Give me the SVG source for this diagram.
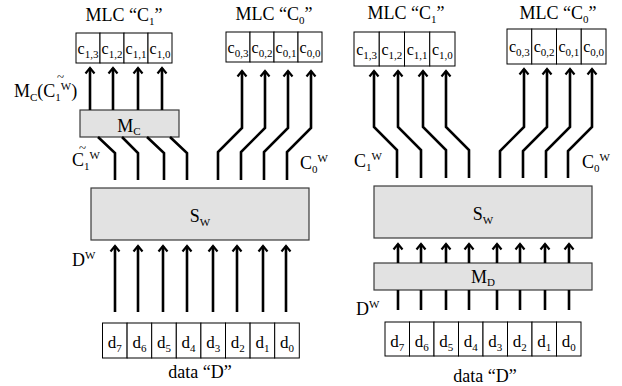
<svg xmlns="http://www.w3.org/2000/svg" width="622" height="386" viewBox="0 0 622 386">
<defs>
<marker id="ah" markerUnits="userSpaceOnUse" markerWidth="12" markerHeight="12" refX="0" refY="0" viewBox="-7 -6 9 12" orient="auto" overflow="visible">
<path d="M-5.5,-4.5 L0,0 L-5.5,4.5" fill="none" stroke="#000" stroke-width="2.2" stroke-linejoin="miter" stroke-linecap="butt"/>
</marker>
</defs>
<style>
text{font-family:"Liberation Serif","Times New Roman",serif;fill:#000}
.lbl{font-size:18px}
.mid{text-anchor:middle}
.cell{font-size:16px;text-anchor:middle}
.dc{font-size:17px;text-anchor:middle}
.sub{font-size:11px}
.sup{font-size:11px}
.tl{font-size:13px}
.c{fill:#fff;stroke:#000;stroke-width:1}
.g{fill:#e2e2e2;stroke:#3a3a3a;stroke-width:1.2}
.w{fill:none;stroke:#000;stroke-width:2.6;stroke-linejoin:miter}
.a{marker-end:url(#ah)}
</style>

<!-- LEFT PANEL -->
<g id="L_C1">
<rect class="c" x="76" y="33" width="24" height="30"/>
<rect class="c" x="100" y="33" width="24" height="30"/>
<rect class="c" x="124" y="33" width="24" height="30"/>
<rect class="c" x="148" y="33" width="24" height="30"/>
<text class="cell" x="88" y="54">c<tspan class="sub" dy="4">1,3</tspan></text>
<text class="cell" x="112" y="54">c<tspan class="sub" dy="4">1,2</tspan></text>
<text class="cell" x="136" y="54">c<tspan class="sub" dy="4">1,1</tspan></text>
<text class="cell" x="160" y="54">c<tspan class="sub" dy="4">1,0</tspan></text>
<text class="lbl mid" x="124" y="21">MLC “C<tspan class="sub" dy="4">1</tspan><tspan dy="-4">”</tspan></text>
</g>
<g id="L_C0">
<rect class="c" x="226" y="32" width="24" height="30"/>
<rect class="c" x="250" y="32" width="24" height="30"/>
<rect class="c" x="274" y="32" width="24" height="30"/>
<rect class="c" x="298" y="32" width="24" height="30"/>
<text class="cell" x="238" y="53">c<tspan class="sub" dy="4">0,3</tspan></text>
<text class="cell" x="262" y="53">c<tspan class="sub" dy="4">0,2</tspan></text>
<text class="cell" x="286" y="53">c<tspan class="sub" dy="4">0,1</tspan></text>
<text class="cell" x="310" y="53">c<tspan class="sub" dy="4">0,0</tspan></text>
<text class="lbl mid" x="274" y="20">MLC “C<tspan class="sub" dy="4">0</tspan><tspan dy="-4">”</tspan></text>
</g>
<g id="L_MC">
<rect class="g" x="80" y="110" width="99" height="27"/>
<text class="lbl mid" x="129" y="132">M<tspan class="sub" dy="3">C</tspan></text>
</g>
<g id="L_SW">
<rect class="g" x="91" y="188" width="218" height="52"/>
<text class="lbl mid" x="200" y="222">S<tspan class="sub" dy="4">W</tspan></text>
</g>
<g id="L_D">
<rect class="c" x="102.5" y="323" width="24.6" height="35"/>
<rect class="c" x="127.1" y="323" width="24.6" height="35"/>
<rect class="c" x="151.7" y="323" width="24.6" height="35"/>
<rect class="c" x="176.3" y="323" width="24.6" height="35"/>
<rect class="c" x="200.9" y="323" width="24.6" height="35"/>
<rect class="c" x="225.5" y="323" width="24.6" height="35"/>
<rect class="c" x="250.1" y="323" width="24.6" height="35"/>
<rect class="c" x="274.7" y="323" width="24.6" height="35"/>
<text class="dc" x="114.8" y="348">d<tspan class="sub" dy="4">7</tspan></text>
<text class="dc" x="139.4" y="348">d<tspan class="sub" dy="4">6</tspan></text>
<text class="dc" x="164" y="348">d<tspan class="sub" dy="4">5</tspan></text>
<text class="dc" x="188.6" y="348">d<tspan class="sub" dy="4">4</tspan></text>
<text class="dc" x="213.2" y="348">d<tspan class="sub" dy="4">3</tspan></text>
<text class="dc" x="237.8" y="348">d<tspan class="sub" dy="4">2</tspan></text>
<text class="dc" x="262.4" y="348">d<tspan class="sub" dy="4">1</tspan></text>
<text class="dc" x="287" y="348">d<tspan class="sub" dy="4">0</tspan></text>
<text class="lbl mid" x="200" y="378">data “D”</text>
</g>
<g id="L_labels">
<text class="lbl" x="14" y="97">M<tspan class="sub" dy="4">C</tspan><tspan dy="-4">(C</tspan><tspan class="sub" dy="4">1</tspan><tspan class="sup" dy="-11">W</tspan><tspan dy="7">)</tspan></text>
<text class="tl" x="57" y="81">~</text>
<text class="lbl" x="72" y="166">C<tspan class="sub" dy="4">1</tspan><tspan class="sup" dy="-11">W</tspan></text>
<text class="tl" x="79" y="152">~</text>
<text class="lbl" x="300" y="169">C<tspan class="sub" dy="4">0</tspan><tspan class="sup" dy="-11">W</tspan></text>
<text class="lbl" x="72" y="266">D<tspan class="sup" dy="-7">W</tspan></text>
</g>

<!-- RIGHT PANEL -->
<g id="R_C1">
<rect class="c" x="354" y="32" width="25.25" height="34"/>
<rect class="c" x="379.25" y="32" width="25.25" height="34"/>
<rect class="c" x="404.5" y="32" width="25.25" height="34"/>
<rect class="c" x="429.75" y="32" width="25.25" height="34"/>
<text class="cell" x="366.6" y="55">c<tspan class="sub" dy="4">1,3</tspan></text>
<text class="cell" x="391.9" y="55">c<tspan class="sub" dy="4">1,2</tspan></text>
<text class="cell" x="417.1" y="55">c<tspan class="sub" dy="4">1,1</tspan></text>
<text class="cell" x="442.4" y="55">c<tspan class="sub" dy="4">1,0</tspan></text>
<text class="lbl mid" x="406" y="19">MLC “C<tspan class="sub" dy="4">1</tspan><tspan dy="-4">”</tspan></text>
</g>
<g id="R_C0">
<rect class="c" x="507" y="29" width="24.75" height="35"/>
<rect class="c" x="531.75" y="29" width="24.75" height="35"/>
<rect class="c" x="556.5" y="29" width="24.75" height="35"/>
<rect class="c" x="581.25" y="29" width="24.75" height="35"/>
<text class="cell" x="519.4" y="52">c<tspan class="sub" dy="4">0,3</tspan></text>
<text class="cell" x="544.1" y="52">c<tspan class="sub" dy="4">0,2</tspan></text>
<text class="cell" x="568.9" y="52">c<tspan class="sub" dy="4">0,1</tspan></text>
<text class="cell" x="593.6" y="52">c<tspan class="sub" dy="4">0,0</tspan></text>
<text class="lbl mid" x="558" y="19">MLC “C<tspan class="sub" dy="4">0</tspan><tspan dy="-4">”</tspan></text>
</g>
<g id="R_SW">
<rect class="g" x="374" y="186" width="218" height="52"/>
<text class="lbl mid" x="483" y="220">S<tspan class="sub" dy="4">W</tspan></text>
</g>
<g id="R_MD">
<rect class="g" x="374" y="263" width="218" height="27"/>
<text class="lbl mid" x="483" y="283">M<tspan class="sub" dy="3">D</tspan></text>
</g>
<g id="R_D">
<rect class="c" x="385" y="322" width="24.5" height="34"/>
<rect class="c" x="409.5" y="322" width="24.5" height="34"/>
<rect class="c" x="434" y="322" width="24.5" height="34"/>
<rect class="c" x="458.5" y="322" width="24.5" height="34"/>
<rect class="c" x="483" y="322" width="24.5" height="34"/>
<rect class="c" x="507.5" y="322" width="24.5" height="34"/>
<rect class="c" x="532" y="322" width="24.5" height="34"/>
<rect class="c" x="556.5" y="322" width="24.5" height="34"/>
<text class="dc" x="397.3" y="347">d<tspan class="sub" dy="4">7</tspan></text>
<text class="dc" x="421.8" y="347">d<tspan class="sub" dy="4">6</tspan></text>
<text class="dc" x="446.3" y="347">d<tspan class="sub" dy="4">5</tspan></text>
<text class="dc" x="470.8" y="347">d<tspan class="sub" dy="4">4</tspan></text>
<text class="dc" x="495.3" y="347">d<tspan class="sub" dy="4">3</tspan></text>
<text class="dc" x="519.8" y="347">d<tspan class="sub" dy="4">2</tspan></text>
<text class="dc" x="544.3" y="347">d<tspan class="sub" dy="4">1</tspan></text>
<text class="dc" x="568.8" y="347">d<tspan class="sub" dy="4">0</tspan></text>
<text class="lbl mid" x="485" y="382">data “D”</text>
</g>
<g id="R_labels">
<text class="lbl" x="354" y="167">C<tspan class="sub" dy="4">1</tspan><tspan class="sup" dy="-11">W</tspan></text>
<text class="lbl" x="582" y="168">C<tspan class="sub" dy="4">0</tspan><tspan class="sup" dy="-11">W</tspan></text>
<text class="lbl" x="356" y="315">D<tspan class="sup" dy="-7">W</tspan></text>
</g>

<g id="connectors" class="w">
<path class="w a" d="M90,110 V68"/>
<path class="w a" d="M113,110 V68"/>
<path class="w a" d="M138,110 V68"/>
<path class="w a" d="M162,110 V68"/>
<path class="w" d="M115,180 V153 L98,137"/>
<path class="w" d="M138,180 V153 L122,137"/>
<path class="w" d="M164,180 V153 L147,137"/>
<path class="w" d="M187,180 V153 L170,137"/>
<path class="w a" d="M218,180 V152 L242,128 V71"/>
<path class="w a" d="M241,180 V152 L265,128 V71"/>
<path class="w a" d="M264,180 V152 L288,128 V71"/>
<path class="w a" d="M287,180 V152 L311,128 V71"/>
<path class="w a" d="M115,312 V246"/>
<path class="w a" d="M138,312 V246"/>
<path class="w a" d="M163,312 V246"/>
<path class="w a" d="M187,312 V246"/>
<path class="w a" d="M213,312 V246"/>
<path class="w a" d="M237,312 V246"/>
<path class="w a" d="M263,312 V246"/>
<path class="w a" d="M286,312 V246"/>
<path class="w a" d="M397,178 V150 L374,127 V71"/>
<path class="w a" d="M421,178 V150 L398,127 V71"/>
<path class="w a" d="M446,178 V150 L423,127 V71"/>
<path class="w a" d="M469,178 V150 L446,127 V71"/>
<path class="w a" d="M500,178 V151 L524,127 V69"/>
<path class="w a" d="M523,178 V151 L547,127 V69"/>
<path class="w a" d="M546,178 V151 L570,127 V69"/>
<path class="w a" d="M568,178 V151 L592,127 V69"/>
<path class="w a" d="M398,263 V244"/>
<path class="w a" d="M421,263 V244"/>
<path class="w a" d="M446,263 V244"/>
<path class="w a" d="M469,263 V244"/>
<path class="w a" d="M497,263 V244"/>
<path class="w a" d="M520,263 V244"/>
<path class="w a" d="M545,263 V244"/>
<path class="w a" d="M569,263 V244"/>
<path class="w" d="M398,310 V290"/>
<path class="w" d="M421,310 V290"/>
<path class="w" d="M446,310 V290"/>
<path class="w" d="M469,310 V290"/>
<path class="w" d="M497,310 V290"/>
<path class="w" d="M520,310 V290"/>
<path class="w" d="M545,310 V290"/>
<path class="w" d="M569,310 V290"/>
</g>
</svg>
